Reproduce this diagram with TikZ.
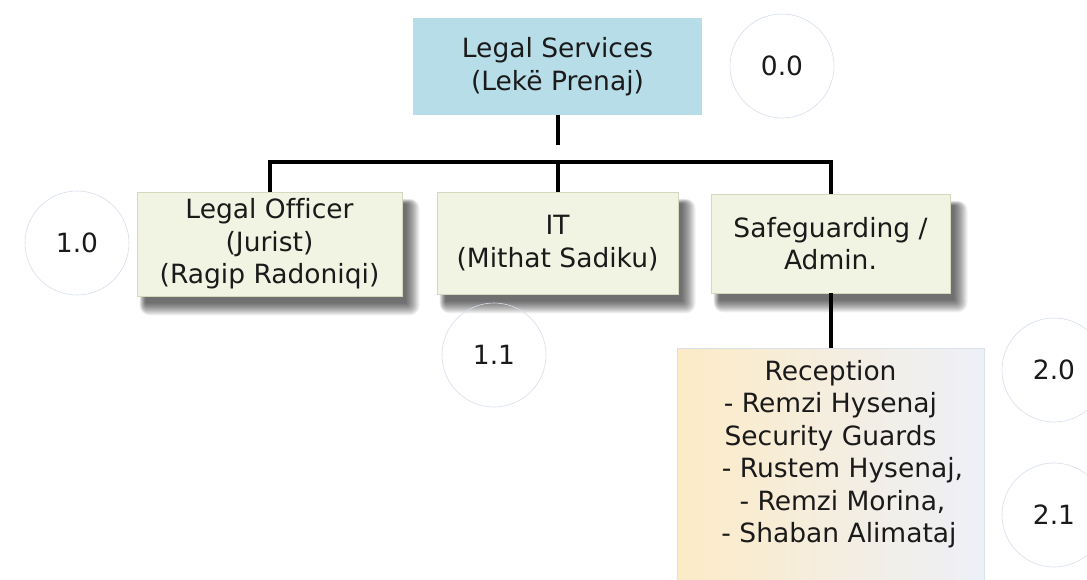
\documentclass[tikz,border=0pt]{standalone}
\usepackage{fontspec}
\setmainfont{DejaVu Sans}[Ligatures=NoCommon]
\definecolor{topfill}{HTML}{B7DDE8}
\definecolor{boxfill}{HTML}{F2F4E3}
\definecolor{boxline}{HTML}{D3D9BE}
\definecolor{circline}{HTML}{D6DEEC}
\definecolor{recL}{HTML}{FCEBC6}
\definecolor{recR}{HTML}{EDF0F8}
\definecolor{recline}{HTML}{DAE0EA}
\definecolor{ink}{HTML}{1A1A1A}
\pgfdeclarelayer{background}
\pgfsetlayers{background,main}
\begin{document}
\begin{tikzpicture}[x=1pt,y=-1pt,
  every node/.style={font=\fontsize{26.5}{32.5}\selectfont, text=ink, inner sep=0pt, align=center},
  topbox/.style={rectangle, fill=topfill, minimum width=289pt, minimum height=97pt},
  midbox/.style={rectangle, fill=boxfill, draw=boxline, line width=0.6pt},
  shadowlayer/.style={fill=black, fill opacity=0.06},
  numcirc/.style={circle, draw=circline, line width=0.6pt, minimum size=104pt},
  recbox/.style={rectangle, left color=recL, right color=recR, draw=recline, line width=0.6pt,
    minimum width=307pt, minimum height=240pt},
  conn/.style={line width=4pt, draw=black}
]
\useasboundingbox (0,0) rectangle (1087,579);

\node[topbox] (top) at (557.5,66.5) {Legal Services\\(Lekë Prenaj)};
\node[numcirc] (c00) at (782,66) {0.0};

\node[midbox, minimum width=265pt, minimum height=104pt] (lo) at (269.5,244) {Legal Officer\\(Jurist)\\(Ragip Radoniqi)};
\node[midbox, minimum width=241pt, minimum height=102pt] (it) at (557.5,243) {IT\\(Mithat Sadiku)};
\node[midbox, minimum width=239pt, minimum height=99pt] (sg) at (830.5,243.5) {Safeguarding /\\Admin.};

\begin{pgfonlayer}{background}
\fill[white] (0,0) rectangle (1087,579);
\foreach \n in {lo,it,sg}{
  \foreach \k in {0,...,12}{
    \fill[shadowlayer, rounded corners={\k*0.8pt+0.1pt}]
      ([xshift={(9-0.5*\k)*1pt}, yshift={(-7-1.0*\k)*1pt}]\n.south west)
      rectangle ([xshift={(4+1.1*\k)*1pt}, yshift={(-12+0.4*\k)*1pt}]\n.north east);
  }
}
\end{pgfonlayer}

\node[numcirc] (c10) at (77,243) {1.0};
\node[numcirc] (c11) at (494,355) {1.1};

\node[recbox, anchor=north] (rec) at (830.5,348) {};
\node[anchor=north] (rectext) at (830.5,360) {Reception\\- Remzi Hysenaj\\Security Guards\\\hspace*{24pt}- Rustem Hysenaj,\\\hspace*{24pt}- Remzi Morina,\\\hspace*{17pt}- Shaban Alimataj};

\node[numcirc] (c20) at (1054,370) {2.0};
\node[numcirc] (c21) at (1054,515) {2.1};

\coordinate (topend) at (557.5,145);
\coordinate (barL) at (269.5,162);
\coordinate (barR) at (830.5,162);
\draw[conn] (top.south) -- (topend);
\draw[conn] (lo.north) -- (barL) -- (barR) -- (sg.north);
\draw[conn] (it.north) -- (it.north |- barL);
\draw[conn] (sg.south) -- (rec.north);
\end{tikzpicture}
\end{document}
